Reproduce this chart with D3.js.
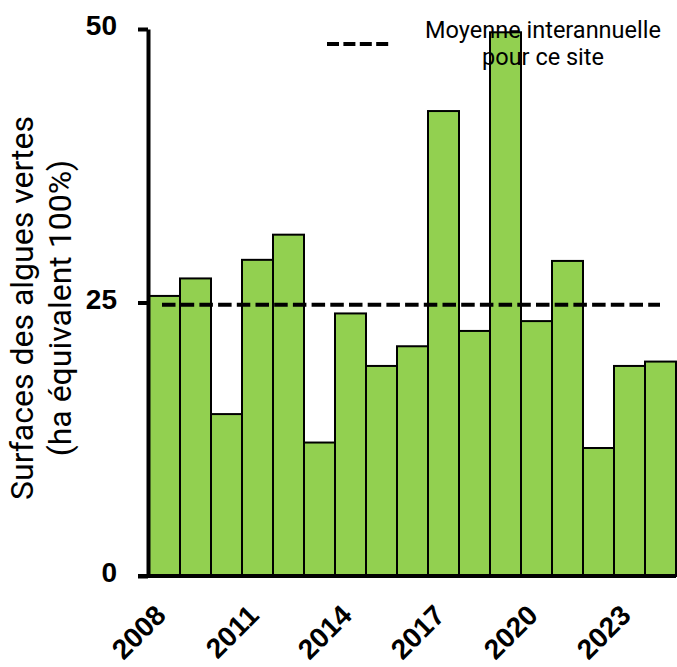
<!DOCTYPE html>
<html>
<head>
<meta charset="utf-8">
<script src="https://cdn.jsdelivr.net/npm/d3@7"></script>
<style>
  html, body { margin: 0; padding: 0; background: #fff; }
  svg { display: block; }
</style>
</head>
<body>
<svg id="chart" width="677" height="667"></svg>
<script>
const years = [2008, 2009, 2010, 2011, 2012, 2013, 2014, 2015, 2016, 2017, 2018, 2019, 2020, 2021, 2022, 2023, 2024];
const surfaces = [25.6, 27.2, 14.8, 28.9, 31.2, 12.2, 24.0, 19.2, 21.0, 42.5, 22.4, 49.7, 23.3, 28.8, 11.7, 19.2, 19.6];
const meanValue = 24.8;
const yTicks = [0, 25, 50];
const xTickYears = [2008, 2011, 2014, 2017, 2020, 2023];
const yTitleLines = ["Surfaces des algues vertes", "(ha équivalent 100%)"];
const legendLines = ["Moyenne interannuelle", "pour ce site"];

const svg = d3.select("#chart");

const x = d3.scaleBand().domain(years).range([149, 676]).padding(0);
const y = d3.scaleLinear().domain([0, 50]).range([576, 29]);

// Bars
svg.append("g").selectAll("rect")
  .data(years.map((yr, i) => ({ yr, v: surfaces[i] })))
  .join("rect")
  .attr("x", d => x(d.yr))
  .attr("y", d => y(d.v))
  .attr("width", x.bandwidth())
  .attr("height", d => y(0) - y(d.v))
  .attr("fill", "#92D050")
  .attr("stroke", "#000")
  .attr("stroke-width", 2);

// Mean dashed line
svg.append("line")
  .attr("x1", 162).attr("x2", 660)
  .attr("y1", y(meanValue)).attr("y2", y(meanValue))
  .attr("stroke", "#000")
  .attr("stroke-width", 4)
  .attr("stroke-dasharray", "13.5 5.2");

// Y axis
const yAxis = svg.append("g")
  .attr("transform", "translate(148,0)")
  .call(d3.axisLeft(y).tickValues(yTicks).tickSizeInner(10).tickSizeOuter(0).tickPadding(21));
yAxis.select(".domain").attr("stroke", "#000").attr("stroke-width", 4);
yAxis.selectAll(".tick line").attr("stroke", "#000").attr("stroke-width", 4);
yAxis.selectAll(".tick text")
  .attr("font-family", "'Liberation Sans', Arial, sans-serif")
  .attr("font-weight", "bold")
  .attr("font-size", 28)
  .attr("fill", "#000")
  .attr("dy", "0.2em");

// X axis
const xAxis = svg.append("g")
  .attr("transform", "translate(0,576)")
  .call(d3.axisBottom(x).tickValues(xTickYears).tickSize(0).tickPadding(0));
xAxis.select(".domain")
  .attr("d", "M138,0H676")
  .attr("stroke", "#000").attr("stroke-width", 4);
xAxis.selectAll(".tick text")
  .attr("font-family", "'Liberation Sans', Arial, sans-serif")
  .attr("font-weight", "bold")
  .attr("font-size", 28)
  .attr("fill", "#000")
  .attr("text-anchor", "end")
  .attr("dy", null)
  .attr("y", 0)
  .attr("transform", "translate(3,41) rotate(-45)");

// Y title
const yTitle = svg.append("text")
  .attr("font-family", "Roboto, 'Liberation Sans', sans-serif")
  .attr("font-size", 32)
  .attr("fill", "#000")
  .attr("text-anchor", "middle")
  .attr("transform", "translate(33,308) rotate(-90)");
yTitle.selectAll("tspan")
  .data(yTitleLines)
  .join("tspan")
  .attr("x", 0)
  .attr("dy", (d, i) => i === 0 ? 0 : 38)
  .text(d => d);

// Legend
svg.append("line")
  .attr("x1", 327).attr("x2", 391)
  .attr("y1", 44).attr("y2", 44)
  .attr("stroke", "#000")
  .attr("stroke-width", 4)
  .attr("stroke-dasharray", "12 4.4");

svg.append("g").selectAll("text")
  .data(legendLines)
  .join("text")
  .attr("x", 543)
  .attr("y", (d, i) => 38 + i * 27)
  .attr("text-anchor", "middle")
  .attr("font-family", "Roboto, 'Liberation Sans', sans-serif")
  .attr("font-weight", 400)
  .attr("font-size", 23.5)
  .attr("fill", "#000")
  .text(d => d);
</script>
</body>
</html>
